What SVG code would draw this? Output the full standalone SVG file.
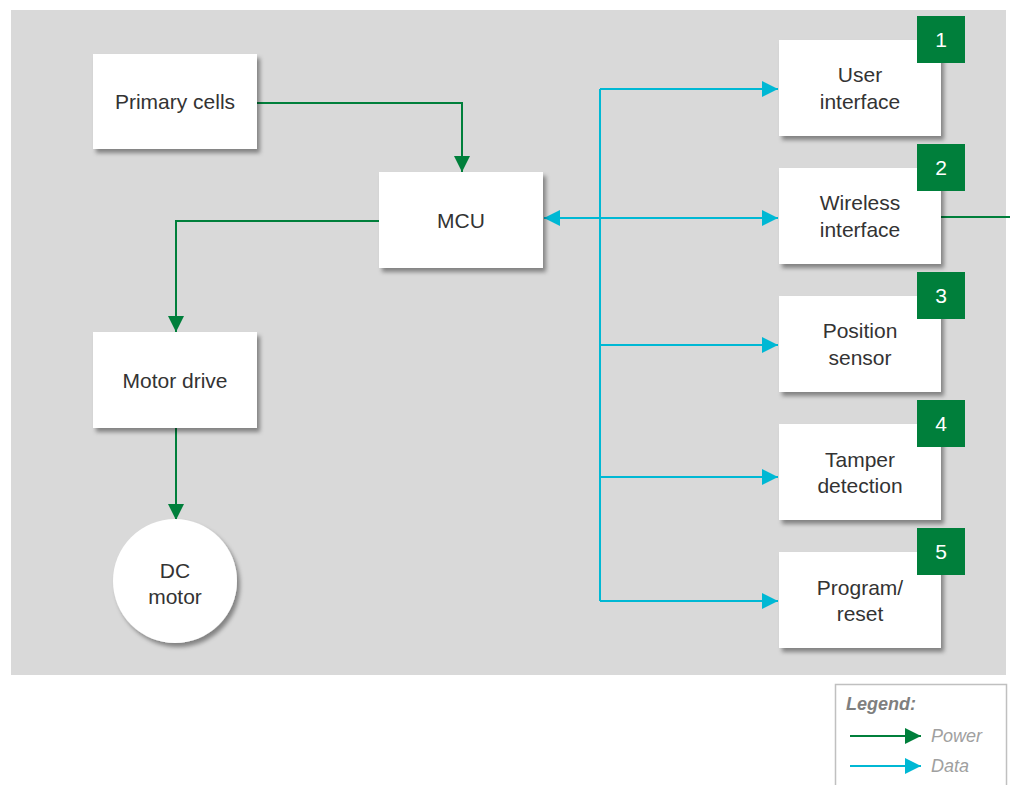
<svg xmlns="http://www.w3.org/2000/svg" width="1010" height="785" viewBox="0 0 1010 785">
<style>
.box{fill:#fff;filter:url(#sh)}
.t{font-family:"Liberation Sans",Arial,sans-serif;font-size:21px;fill:#333;text-anchor:middle}
.num{font-family:"Liberation Sans",Arial,sans-serif;font-size:21px;fill:#fff;text-anchor:middle}
.badge{fill:#007f3b}
.pw{stroke:#007f3b;stroke-width:2;fill:none}
.dt{stroke:#00b8d4;stroke-width:2;fill:none}
.lg{font-family:"Liberation Sans",Arial,sans-serif;font-size:18px;font-style:italic}
</style>
<defs>
<filter id="sh" x="-10%" y="-10%" width="130%" height="130%">
<feDropShadow dx="3" dy="4" stdDeviation="2" flood-color="#000" flood-opacity="0.4"/>
</filter>
<marker id="ag" viewBox="0 0 16 16" refX="16" refY="8" markerWidth="16" markerHeight="16" markerUnits="userSpaceOnUse" orient="auto-start-reverse">
<path d="M0,0 L16,8 L0,16 Z" fill="#007f3b"/>
</marker>
<marker id="ac" viewBox="0 0 16 16" refX="16" refY="8" markerWidth="16" markerHeight="16" markerUnits="userSpaceOnUse" orient="auto-start-reverse">
<path d="M0,0 L16,8 L0,16 Z" fill="#00b8d4"/>
</marker>
</defs>
<rect x="11" y="10" width="995" height="665" fill="#d9d9d9"/>

<g id="connectors">
<path class="pw" d="M257,103 H462 V172" marker-end="url(#ag)"/>
<path class="pw" d="M379,221 H176 V332" marker-end="url(#ag)"/>
<path class="pw" d="M176,428 V520" marker-end="url(#ag)"/>
<path class="pw" d="M941,217 H1010"/>
<path class="dt" d="M600,89 V601"/>
<path class="dt" d="M600,89 H778" marker-end="url(#ac)"/>
<path class="dt" d="M544,218 H778" marker-start="url(#ac)" marker-end="url(#ac)"/>
<path class="dt" d="M600,345 H778" marker-end="url(#ac)"/>
<path class="dt" d="M600,477 H778" marker-end="url(#ac)"/>
<path class="dt" d="M600,601 H778" marker-end="url(#ac)"/>
</g>

<g id="primary-cells">
<rect class="box" x="93" y="54" width="164" height="95"/>
<text class="t" x="175" y="109">Primary cells</text>
</g>
<g id="mcu">
<rect class="box" x="379" y="172" width="164" height="96"/>
<text class="t" x="461" y="228">MCU</text>
</g>
<g id="motor-drive">
<rect class="box" x="93" y="332" width="164" height="96"/>
<text class="t" x="175" y="388">Motor drive</text>
</g>
<g id="dc-motor">
<circle cx="175" cy="581" r="62" fill="#fff" filter="url(#sh)"/>
<text class="t" x="175" y="578">DC</text>
<text class="t" x="175" y="604">motor</text>
</g>

<g id="user-interface">
<rect class="box" x="779" y="40" width="162" height="96"/>
<text class="t" x="860" y="82">User</text>
<text class="t" x="860" y="109">interface</text>
<rect class="badge" x="917" y="16" width="48" height="47"/>
<text class="num" x="941" y="47">1</text>
</g>
<g id="wireless-interface">
<rect class="box" x="779" y="168" width="162" height="96"/>
<text class="t" x="860" y="210">Wireless</text>
<text class="t" x="860" y="237">interface</text>
<rect class="badge" x="917" y="144" width="48" height="47"/>
<text class="num" x="941" y="175">2</text>
</g>
<g id="position-sensor">
<rect class="box" x="779" y="296" width="162" height="96"/>
<text class="t" x="860" y="338">Position</text>
<text class="t" x="860" y="365">sensor</text>
<rect class="badge" x="917" y="272" width="48" height="47"/>
<text class="num" x="941" y="303">3</text>
</g>
<g id="tamper-detection">
<rect class="box" x="779" y="424" width="162" height="96"/>
<text class="t" x="860" y="467">Tamper</text>
<text class="t" x="860" y="493">detection</text>
<rect class="badge" x="917" y="400" width="48" height="47"/>
<text class="num" x="941" y="431">4</text>
</g>
<g id="program-reset">
<rect class="box" x="779" y="552" width="162" height="96"/>
<text class="t" x="860" y="595">Program/</text>
<text class="t" x="860" y="621">reset</text>
<rect class="badge" x="917" y="528" width="48" height="47"/>
<text class="num" x="941" y="559">5</text>
</g>

<g id="legend">
<rect x="835.5" y="684.5" width="171" height="110" fill="#fff" stroke="#c0c0c0" stroke-width="1.5"/>
<text class="lg" x="846" y="710" font-weight="bold" fill="#7f7f7f">Legend:</text>
<path class="pw" d="M850,736 H921" marker-end="url(#ag)"/>
<text class="lg" x="931" y="742" fill="#a0a0a0">Power</text>
<path class="dt" d="M850,766 H921" marker-end="url(#ac)"/>
<text class="lg" x="931" y="772" fill="#a0a0a0">Data</text>
</g>
</svg>
